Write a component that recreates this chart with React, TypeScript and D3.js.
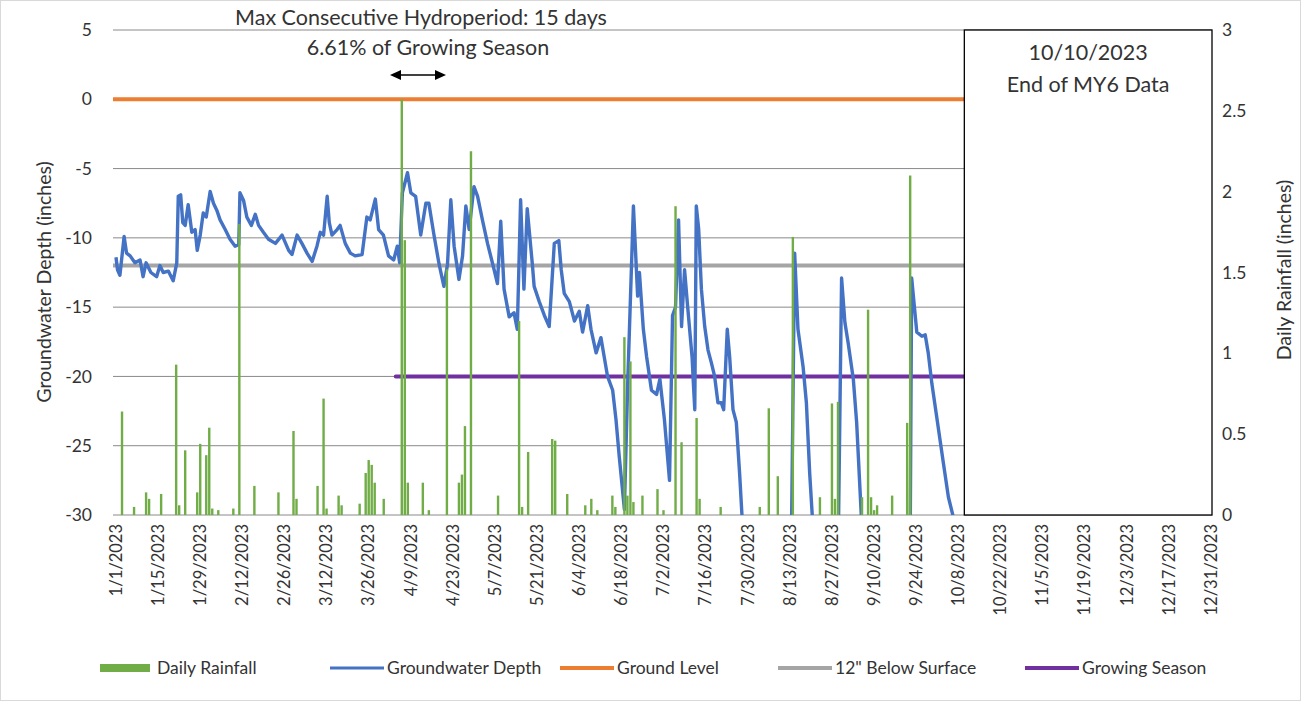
import React from "react";
import * as d3 from "d3";

// ---- data ----
const xTickLabels = [
  "1/1/2023", "1/15/2023", "1/29/2023", "2/12/2023", "2/26/2023", "3/12/2023", "3/26/2023",
  "4/9/2023", "4/23/2023", "5/7/2023", "5/21/2023", "6/4/2023", "6/18/2023", "7/2/2023",
  "7/16/2023", "7/30/2023", "8/13/2023", "8/27/2023", "9/10/2023", "9/24/2023", "10/8/2023",
  "10/22/2023", "11/5/2023", "11/19/2023", "12/3/2023", "12/17/2023", "12/31/2023",
];
const depthTicks = [5, 0, -5, -10, -15, -20, -25, -30];
const rainTicks = [0, 0.5, 1, 1.5, 2, 2.5, 3];

// groundwater depth, day offset from 1/1/2023 (below -30 is off the chart)
const gwDay = [
  0, 0.5, 1.3, 2.7, 3.5, 4.7, 6.3, 8, 9, 10, 11.6, 13.5, 14.6, 15.7, 17.4, 19, 20.2, 20.7, 21.5, 22.2,
  23, 24, 25.2, 26.3, 27, 28, 29, 30, 31.3, 32.4, 33.5, 34.6, 36.3, 37.9, 39.6, 40.8, 41.2, 42.4, 43.5, 45,
  46.3, 47.4, 49, 50.7, 53, 55.2, 57.4, 58.5, 60.2, 61.8, 63.5, 65.2, 66.8, 67.9, 69, 70.2, 70.9, 71.8, 73.5, 74.5,
  76.2, 77.9, 79.5, 81.8, 83.4, 84.5, 86.2, 87.3, 88.9, 90.6, 92.3, 93.5, 94.3, 95.2, 96.9, 98, 99.6, 101.3, 103, 104,
  105.7, 107.4, 109, 110.2, 111.3, 112.4, 114, 115.2, 116.3, 117.4, 119, 120.2, 121.8, 123.5, 125.7, 126.8, 127.9, 129, 130.7, 132.3,
  133.4, 134.5, 135.6, 136.7, 138.4, 139, 140.7, 142.4, 144, 145.7, 147.2, 148, 149, 150.7, 152.4, 154, 155.1, 156.8, 157.9, 159.6,
  161.2, 162.3, 163.4, 165.1, 166.2, 167.3, 169, 170.1, 172, 173.4, 174, 175.3, 176.4, 178, 179.7, 180.8, 182.3, 184, 185, 186,
  187, 188, 189, 190, 191.5, 192, 192.4, 192.9, 193.7, 194.6, 195.7, 196.8, 197.9, 199, 200.1, 201.2, 202, 203.2, 204, 205.1,
  206.2, 207.3, 208.6, 224.5, 225.6, 226.7, 228.4, 229.5, 230.6, 232, 240.1, 241.2, 242.3, 243.4, 245.1, 246.2, 248.2, 264, 264.5, 266.2,
  267.9, 269, 270, 271.2, 272.8, 275, 276.7, 279.3, 281,
];
const gwDepth = [
  -11.4, -12.3, -12.7, -9.9, -11.1, -11.3, -11.8, -11.6, -12.8, -11.8, -12.5, -12.8, -12, -12.5, -12.4, -13.1, -11.8, -7.0, -6.9, -8.9,
  -9.1, -7.6, -9.6, -9.4, -10.9, -9.8, -8.2, -8.5, -6.65, -7.5, -8.0, -8.7, -9.4, -10.1, -10.6, -10.5, -6.75, -7.3, -8.5, -9.1,
  -8.3, -9.1, -9.6, -10.1, -10.4, -9.8, -10.9, -11.2, -9.8, -10.4, -11.1, -11.7, -10.6, -9.6, -9.8, -7.0, -8.9, -9.8, -9.4, -9.1,
  -10.4, -11.1, -11.3, -11.2, -8.5, -8.7, -7.2, -9.4, -9.8, -11.3, -11.6, -10.6, -11.8, -6.75, -5.3, -6.75, -7.0, -9.8, -7.5, -7.5,
  -9.8, -11.9, -13.5, -11.9, -7.25, -10.6, -13.0, -11.3, -7.7, -9.4, -6.3, -7.0, -8.7, -10.4, -12.3, -13.3, -8.8, -13.7, -15.7, -15.4,
  -16.6, -7.25, -13.7, -7.9, -11.9, -13.5, -14.6, -15.6, -16.4, -10.4, -10.2, -12.3, -14.0, -14.6, -16.0, -15.3, -16.8, -14.9, -16.6, -18.3,
  -17.2, -18.6, -20.0, -21.0, -23.1, -25.8, -29.6, -20.5, -7.7, -14.2, -12.5, -16.6, -18.6, -21.0, -21.3, -20.2, -23.1, -27.5, -15.6, -15.0,
  -8.7, -16.4, -12.3, -14.9, -18.6, -20.8, -22.4, -7.7, -9.4, -13.7, -16.4, -18.1, -19.0, -20.0, -21.9, -21.9, -22.4, -16.6, -18.6, -22.4,
  -23.3, -27.0, -32, -32, -11.1, -16.6, -19.3, -21.9, -27.0, -32, -32, -12.9, -16.1, -17.6, -20.2, -23.3, -32, -32, -12.9, -16.8,
  -17.1, -17.0, -18.3, -20.5, -22.9, -26.2, -28.7, -31, -32,
];

// daily rainfall, day offset from 1/1/2023
const rainDay = [
  2, 6, 10, 11, 15, 20, 21, 23, 27, 28, 30, 31, 32, 34, 39, 41, 46, 54, 59, 60,
  67, 69, 70, 74, 75, 81, 83, 84, 85, 86, 89, 95, 96, 97, 102, 104, 110, 114, 115, 116,
  118, 127, 134, 135, 137, 145, 146, 150, 156, 158, 160, 165, 166, 169, 170, 171, 172, 175, 180, 182,
  186, 188, 193, 194, 201, 214, 217, 220, 225, 234, 238, 239, 240, 248, 250, 251, 252, 253, 258, 263, 264,
];
const rainInches = [
  0.64, 0.05, 0.14, 0.1, 0.13, 0.93, 0.06, 0.4, 0.14, 0.44, 0.37, 0.54, 0.04, 0.03, 0.04, 1.8, 0.18, 0.14, 0.52, 0.1,
  0.18, 0.72, 0.04, 0.12, 0.06, 0.07, 0.26, 0.34, 0.31, 0.2, 0.1, 2.57, 1.7, 0.2, 0.2, 0.03, 1.52, 0.2, 0.25, 0.55,
  2.25, 0.12, 1.2, 0.05, 0.39, 0.47, 0.46, 0.13, 0.06, 0.1, 0.03, 0.12, 0.05, 1.1, 0.12, 0.95, 0.08, 0.12, 0.16, 0.03,
  1.91, 0.45, 0.6, 0.1, 0.05, 0.05, 0.66, 0.24, 1.72, 0.11, 0.69, 0.1, 0.7, 0.11, 1.27, 0.11, 0.03, 0.06, 0.12, 0.57, 2.1,
];

const groundLevel = 0;
const belowSurface = -12;
const growingSeasonDepth = -20;
const growingSeasonStart = "4/4/2023";
const endOfData = "10/10/2023";

const legendItems = [
  { label: "Daily Rainfall", color: "#70AD47", kind: "bar" },
  { label: "Groundwater Depth", color: "#4472C4", kind: "line" },
  { label: "Ground Level", color: "#ED7D31", kind: "line" },
  { label: "12\" Below Surface", color: "#A5A5A5", kind: "line" },
  { label: "Growing Season", color: "#7030A0", kind: "line" },
];
const legendX = [100, 330, 560, 778, 1025];

// ---- helpers ----
const start = new Date(2023, 0, 1);
const parseDate = (s: string) => {
  const [m, d, y] = s.split("/").map(Number);
  return new Date(y, m - 1, d);
};
const dayToDate = (d: number) => new Date(start.getTime() + d * 86400000);

const FONT = "Lato, 'Open Sans', sans-serif";
const TXT = "#333";

export default function App() {
  const W = 1309;
  const H = 702;
  const plotL = 113;
  const plotR = 1212;
  const top = 30;
  const bottom = 515;

  const x = d3.scaleTime().domain([start, new Date(2023, 11, 31)]).range([116, 1211]);
  const yL = d3.scaleLinear().domain([-30, 5]).range([bottom, top]);
  const yR = d3.scaleLinear().domain([0, 3]).range([bottom, top]);

  const boxX = x(parseDate(endOfData));
  const gsX = x(parseDate(growingSeasonStart));

  const gwLine = d3
    .line<number>()
    .x((d) => x(dayToDate(d)))
    .y((_, i) => yL(gwDepth[i]));

  const barW = 2.4;

  return (
    <svg
      width={W}
      height={H}
      style={{ position: "absolute", left: 0, top: 0, background: "#fff", fontFamily: FONT }}
    >
      <defs>
        <clipPath id="plotClip">
          <rect x={plotL} y={top - 5} width={plotR - plotL} height={bottom - top + 5} />
        </clipPath>
      </defs>
      <rect x={0.5} y={0.5} width={1300} height={700} fill="#fff" stroke="#d9d9d9" />

      {/* gridlines */}
      {depthTicks.map((t) => (
        <line key={t} x1={plotL} x2={plotR} y1={yL(t)} y2={yL(t)} stroke="#8a8a8a" strokeWidth={1} />
      ))}

      {/* reference lines */}
      <line x1={plotL} x2={boxX} y1={yL(groundLevel)} y2={yL(groundLevel)} stroke="#ED7D31" strokeWidth={4} />
      <line x1={plotL} x2={boxX} y1={yL(belowSurface)} y2={yL(belowSurface)} stroke="#A5A5A5" strokeWidth={4} />
      <line
        x1={gsX}
        x2={boxX}
        y1={yL(growingSeasonDepth)}
        y2={yL(growingSeasonDepth)}
        stroke="#7030A0"
        strokeWidth={4}
        strokeLinecap="round"
      />

      {/* groundwater */}
      <path
        d={gwLine(gwDay) || ""}
        fill="none"
        stroke="#4472C4"
        strokeWidth={3.4}
        strokeLinejoin="round"
        clipPath="url(#plotClip)"
      />

      {/* rainfall */}
      {rainDay.map((d, i) => (
        <rect
          key={i}
          x={x(dayToDate(d)) - barW / 2}
          y={yR(rainInches[i])}
          width={barW}
          height={bottom - yR(rainInches[i])}
          fill="#70AD47"
        />
      ))}

      {/* end-of-data box */}
      <rect x={boxX} y={top} width={plotR - boxX} height={bottom - top} fill="#fff" stroke="#000" strokeWidth={1.3} />
      <text x={(boxX + plotR) / 2} y={60} textAnchor="middle" fontSize={21.5} fill={TXT}>
        {endOfData}
      </text>
      <text x={(boxX + plotR) / 2} y={92} textAnchor="middle" fontSize={21.5} fill={TXT}>
        End of MY6 Data
      </text>

      {/* left axis */}
      {depthTicks.map((t) => (
        <text key={t} x={92} y={yL(t)} dy="0.35em" textAnchor="end" fontSize={17.5} fill={TXT}>
          {t}
        </text>
      ))}
      {/* right axis */}
      {rainTicks.map((t) => (
        <text key={t} x={1222} y={yR(t)} dy="0.35em" textAnchor="start" fontSize={17.5} fill={TXT}>
          {t}
        </text>
      ))}
      {/* x axis */}
      {xTickLabels.map((s) => {
        const px = x(parseDate(s));
        return (
          <text
            key={s}
            transform={`translate(${px},${bottom + 9}) rotate(-90)`}
            dy="0.35em"
            textAnchor="end"
            fontSize={16.5}
            fill={TXT}
          >
            {s}
          </text>
        );
      })}

      <text transform="translate(44,282) rotate(-90)" textAnchor="middle" dy="0.35em" fontSize={19.5} fill={TXT}>
        Groundwater Depth (inches)
      </text>
      <text transform="translate(1284,270) rotate(-90)" textAnchor="middle" dy="0.35em" fontSize={19.5} fill={TXT}>
        Daily Rainfall (inches)
      </text>

      {/* hydroperiod annotation */}
      <text x={421} y={25} textAnchor="middle" fontSize={21.5} fill={TXT}>
        Max Consecutive Hydroperiod: 15 days
      </text>
      <text x={428} y={55} textAnchor="middle" fontSize={21.5} fill={TXT}>
        6.61% of Growing Season
      </text>
      <line x1={398} x2={438} y1={75} y2={75} stroke="#000" strokeWidth={1.5} />
      <path d="M390,75 L401,70 L401,80 Z" fill="#000" />
      <path d="M446,75 L435,70 L435,80 Z" fill="#000" />

      {/* legend */}
      {legendItems.map((item, i) => {
        const lx = legendX[i];
        const ly = 668;
        return (
          <g key={item.label}>
            {item.kind === "bar" ? (
              <rect x={lx} y={ly - 4} width={50} height={8} fill={item.color} />
            ) : (
              <line x1={lx} x2={lx + 54} y1={ly} y2={ly} stroke={item.color} strokeWidth={item.label === "Groundwater Depth" ? 3 : 4} />
            )}
            <text x={lx + 57} y={ly} dy="0.35em" fontSize={17.5} fill={TXT}>
              {item.label}
            </text>
          </g>
        );
      })}
    </svg>
  );
}
